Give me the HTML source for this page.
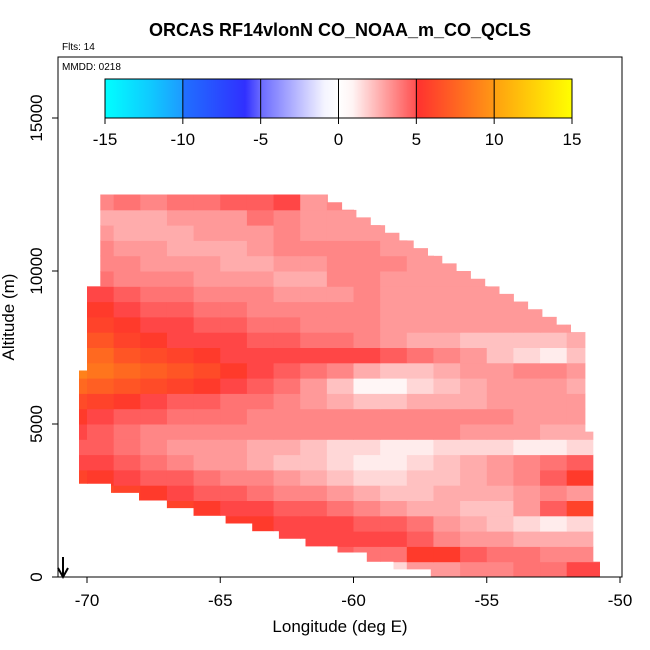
<!DOCTYPE html>
<html><head><meta charset="utf-8"><style>
html,body{margin:0;padding:0;background:#fff;}
svg{display:block;font-family:"Liberation Sans",sans-serif;}
</style></head><body>
<svg id="chart" width="650" height="650" viewBox="0 0 650 650">
<defs>
<linearGradient id="cbgrad" x1="0" x2="1" y1="0" y2="0">
<stop offset="0" stop-color="#00ffff"/><stop offset="0.1" stop-color="#10c8ff"/>
<stop offset="0.1667" stop-color="#1e9aff"/><stop offset="0.1668" stop-color="#2070ff"/>
<stop offset="0.3" stop-color="#3030ff"/><stop offset="0.3334" stop-color="#6a6aff"/>
<stop offset="0.47" stop-color="#f4f4ff"/><stop offset="0.5" stop-color="#ffffff"/>
<stop offset="0.53" stop-color="#fff4f4"/><stop offset="0.6666" stop-color="#ff5050"/>
<stop offset="0.6667" stop-color="#ff3030"/><stop offset="0.8333" stop-color="#ff9814"/>
<stop offset="0.8334" stop-color="#ffa010"/><stop offset="1" stop-color="#ffff00"/>
</linearGradient>
<clipPath id="domainClip"><path id="clipPathEl" d=""/></clipPath>
</defs>
<text x="340" y="36" text-anchor="middle" font-size="18" font-weight="bold">ORCAS RF14vlonN CO_NOAA_m_CO_QCLS</text>
<text x="62" y="50" font-size="10">Flts: 14</text>
<g id="heat" clip-path="url(#domainClip)"></g>
<rect x="58" y="57" width="564" height="520" fill="none" stroke="#000" stroke-width="1"/>
<text x="62" y="70" font-size="10">MMDD: 0218</text>
<g>
<rect x="105" y="79" width="467" height="39" fill="url(#cbgrad)" stroke="#000" stroke-width="1"/>
<g id="cbticks"></g>
</g>
<g id="axes"></g>
<text x="340" y="632" text-anchor="middle" font-size="17">Longitude (deg E)</text>
<text transform="translate(14,317) rotate(-90)" text-anchor="middle" font-size="17">Altitude (m)</text>
<g>
<line x1="63" y1="557" x2="63" y2="575" stroke="#000" stroke-width="2"/>
<path d="M58,568 L63,577 L68,568" fill="none" stroke="#000" stroke-width="2"/>
</g>
</svg>
<script>
const colLon0 = [-71,-70,-69,-68,-67,-66,-65,-64,-63,-62,-61,-60,-59,-58,-57,-56,-55,-54,-53,-52,-51];
const rowAlt0 = [0,500,1000,1500,2000,2500,3000,3500,4000,4500,5000,5500,6000,6500,7000,7500,8000,8500,9000,9500,10000,10500,11000,11500,12000];
const n = null;
// values rows from bottom (0-500 m) to top (12000-12500 m)
const values = [
[n,n,n,n,n,n,n,n,n,n,n,2,1.5,3,3,3.5,3.5,4,4,5,5],
[n,n,n,n,n,n,n,n,n,4.5,4.5,4,4,5.5,5.5,4.5,4,4,3.5,3.5,3.5],
[n,n,n,n,n,n,n,5,5,5,5,5,5,4.5,3.5,3,3,2.5,2.5,2.5,2.5],
[n,n,n,n,n,6,5.5,5.5,5,5,5,4.5,4.5,4,3,2.5,2,1.5,1,1.5,1.5],
[n,n,6.5,6.5,6,5.5,5,5,4.5,4.5,4,3.5,3,2.5,2.5,2,2,3,4.5,6,6],
[7,6.5,6,5.5,5,4.5,4.5,4,3.5,3.5,3,2.5,2,2,2.5,2.5,2.5,3,3.5,3,3],
[6,5.5,5,4.5,4.5,4,3.5,3.5,3,2.5,2,1.5,1.5,2,2,2.5,3,3.5,4.5,5.5,5.5],
[5,5,4.5,4,3.5,3,3,2.5,2,2,1.5,1,1,1.5,2,2.5,3,3.5,4,4.5,4.5],
[4.5,4.5,4,3.5,3,3,3,2.5,2.5,2,1.5,1.5,1,1,1.5,1.5,1.5,1,1,1.5,1.5],
[5,4.5,4,3.5,3.5,3.5,3.5,3.5,3.5,3.5,3.5,3.5,3.5,3.5,3.5,3,3,3,2.5,2.5,2.5],
[5.5,5,4.5,4.5,4,4,4,3.5,3.5,3.5,3.5,3.5,3.5,3.5,3.5,3.5,3.5,3,3,3,n],
[6.5,6,5.5,5,4.5,4.5,4,4,3.5,3,2.5,2,2,2.5,2.5,2.5,3,3,3,3,n],
[8,7.5,7,6.5,6,5.5,5,4.5,4,3,2,0.5,0.5,1.5,2,2.5,3,3,3,2.5,n],
[9,8.5,8,7.5,7,6.5,5.5,5,4.5,4,3.5,2.5,2,2,2.5,3,3,3.5,3.5,3,n],
[8.5,8,7,6.5,6,5.5,5,5,5,5,5,5,4.5,4,3.5,3,2,1.5,1,2,n],
[7,7,6,5.5,5,5,5,4.5,4.5,4,4,3.5,3,2.5,2.5,2,2,2,2,2.5,n],
[6,6,5.5,5,5,4.5,4.5,4,4,3.5,3.5,3.5,3,3,3,3,3,3,3,3,n],
[5.5,5.5,5,4.5,4.5,4,4,3.5,3.5,3.5,3.5,3.5,3,3,3,3,3,3,3,n,n],
[5,5,4.5,4,4,3.5,3.5,3.5,3,3,3,3.5,3,3,3,3,3,3,n,n,n],
[n,4,3.5,3.5,3.5,3,3,3,2.5,2.5,3.5,3.5,3,3,3,3,n,n,n,n,n],
[n,3.5,3.5,3,3,3,2.5,2.5,3,3,3.5,3.5,3.5,3,3,n,n,n,n,n,n],
[n,3.5,3,3,2.5,2.5,2.5,3,3.5,3.5,3.5,3.5,3,3,n,n,n,n,n,n,n],
[n,3,2.5,2.5,2.5,3,3,3,3.5,3,3,3,3,n,n,n,n,n,n,n,n],
[n,2.5,2.5,2.5,3,3,3,4,3.5,3,3,3,n,n,n,n,n,n,n,n,n],
[n,3.5,4,3.5,4,4,4.5,4.5,5,3,3.5,n,n,n,n,n,n,n,n,n,n]
];
const outlineLon = [-50.75,-57.1,-57.1,-58.5,-58.5,-59.5,-59.5,-60.6,-60.6,-61.8,-61.8,-62.8,-62.8,-63.8,-63.8,-64.8,-64.8,-66.0,-66.0,-67.0,-67.0,-68.05,-68.05,-69.1,-69.1,-70.3,-70.3,-70.0,-70.0,-69.5,-69.5,-61.5,-51.3,-51.3,-51.0,-51.0,-50.75];
const outlineAlt = [0,0,250,250,500,500,800,800,1000,1000,1250,1250,1500,1500,1750,1750,2000,2000,2250,2250,2500,2500,2750,2750,3050,3050,6750,6750,9500,9500,12500,12500,7750,4750,4750,500,500];
const xTicks = [-70,-65,-60,-55,-50];
const yTicks = [0,5000,10000,15000];
const cbTicks = [-15,-10,-5,0,5,10,15];

function xs(lon){ return 87 + (lon + 70) * 26.65; }
function ys(alt){ return 577 - alt * 0.0306; }
function cbx(v){ return 105 + (v + 15) / 30 * 467; }

const stops = [[0,[255,255,255]],[1,[255,236,236]],[2.5,[255,172,172]],[4,[255,115,115]],[5,[255,70,70]],[5.01,[255,50,45]],[6.5,[255,75,40]],[8,[255,105,32]],[10,[255,152,20]],[15,[255,255,0]]];
function color(v){
  if (v <= 0) return 'rgb(255,255,255)';
  for (let i = 1; i < stops.length; i++) {
    if (v <= stops[i][0]) {
      const a = stops[i-1], b = stops[i], t = (v - a[0]) / (b[0] - a[0]);
      const c = a[1].map((x, k) => Math.round(x + (b[1][k] - x) * t));
      return 'rgb(' + c.join(',') + ')';
    }
  }
  return 'rgb(255,255,0)';
}
const NS = 'http://www.w3.org/2000/svg';
let d = '';
for (let i = 0; i < outlineLon.length; i++) {
  const x = xs(outlineLon[i]), y = ys(outlineAlt[i]);
  if (i > 0 && outlineLon[i-1] !== outlineLon[i] && outlineAlt[i-1] !== outlineAlt[i]) {
    // staircase the diagonal edge
    const x0 = xs(outlineLon[i-1]), y0 = ys(outlineAlt[i-1]);
    const steps = Math.round(Math.abs(y - y0) / 7.65);
    for (let s = 1; s <= steps; s++) {
      const xa = x0 + (x - x0) * s / steps, ya = y0 + (y - y0) * (s - 1) / steps, yb = y0 + (y - y0) * s / steps;
      d += 'L' + xa.toFixed(1) + ',' + ya.toFixed(1) + 'L' + xa.toFixed(1) + ',' + yb.toFixed(1);
    }
  } else {
    d += (i ? 'L' : 'M') + x.toFixed(1) + ',' + y.toFixed(1);
  }
}
document.getElementById('clipPathEl').setAttribute('d', d + 'Z');

const heat = document.getElementById('heat');
for (let r = 0; r < values.length; r++) {
  for (let c = 0; c < colLon0.length; c++) {
    const v = values[r][c];
    if (v === null) continue;
    const rect = document.createElementNS(NS, 'rect');
    rect.setAttribute('x', xs(colLon0[c]));
    rect.setAttribute('y', ys(rowAlt0[r] + 500));
    rect.setAttribute('width', xs(colLon0[c] + 1) - xs(colLon0[c]) + 0.5);
    rect.setAttribute('height', ys(rowAlt0[r]) - ys(rowAlt0[r] + 500) + 0.5);
    rect.setAttribute('fill', color(v));
    
    
    heat.appendChild(rect);
  }
}
const axes = document.getElementById('axes');
xTicks.forEach(t => {
  const l = document.createElementNS(NS, 'line');
  l.setAttribute('x1', xs(t)); l.setAttribute('x2', xs(t));
  l.setAttribute('y1', 577); l.setAttribute('y2', 583);
  l.setAttribute('stroke', '#000');
  
  
  axes.appendChild(l);
  const tx = document.createElementNS(NS, 'text');
  tx.setAttribute('x', xs(t)); tx.setAttribute('y', 606);
  tx.setAttribute('text-anchor', 'middle'); tx.setAttribute('font-size', '17');
  tx.textContent = t;
  
  
  axes.appendChild(tx);
});
yTicks.forEach(t => {
  const l = document.createElementNS(NS, 'line');
  l.setAttribute('x1', 52); l.setAttribute('x2', 58);
  l.setAttribute('y1', ys(t)); l.setAttribute('y2', ys(t));
  l.setAttribute('stroke', '#000');
  
  
  axes.appendChild(l);
  const tx = document.createElementNS(NS, 'text');
  tx.setAttribute('transform', 'translate(42,' + ys(t) + ') rotate(-90)');
  tx.setAttribute('text-anchor', 'middle'); tx.setAttribute('font-size', '17');
  tx.textContent = t;
  
  
  axes.appendChild(tx);
});
const cbt = document.getElementById('cbticks');
cbTicks.forEach(t => {
  const l = document.createElementNS(NS, 'line');
  l.setAttribute('x1', cbx(t)); l.setAttribute('x2', cbx(t));
  l.setAttribute('y1', 79); l.setAttribute('y2', 124);
  l.setAttribute('stroke', '#000');
  
  
  cbt.appendChild(l);
  const tx = document.createElementNS(NS, 'text');
  tx.setAttribute('x', cbx(t)); tx.setAttribute('y', 145);
  tx.setAttribute('text-anchor', 'middle'); tx.setAttribute('font-size', '17');
  tx.textContent = t;
  
  
  cbt.appendChild(tx);
});
</script>
</body></html>
